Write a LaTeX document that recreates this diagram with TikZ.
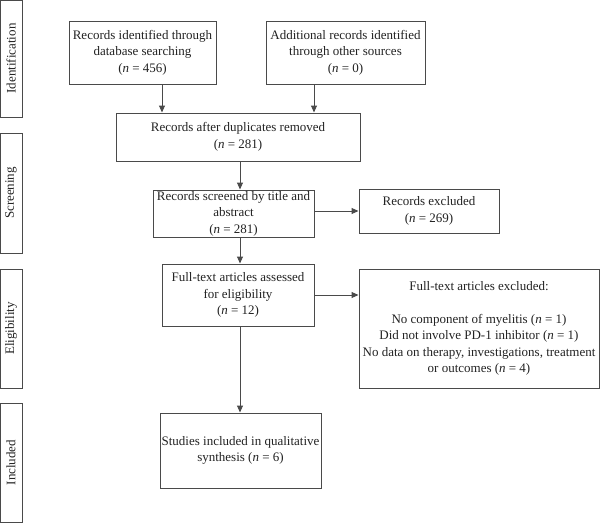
\documentclass[tikz,border=0pt]{standalone}
\usepackage{fontspec}
\setmainfont{Liberation Serif}
\usetikzlibrary{arrows.meta}
\definecolor{ln}{HTML}{4A4A4A}
\definecolor{tx}{HTML}{222222}
\begin{document}
\begin{tikzpicture}[x=1pt,y=-1pt,
  box/.style={draw=ln,line width=1pt,rectangle,align=center,inner sep=1pt,text=tx,
    font=\fontsize{13}{16.5}\selectfont},
  side/.style={draw=ln,line width=1pt,rectangle,minimum width=22pt,text=tx,
    font=\fontsize{13}{14}\selectfont},
  arr/.style={draw=ln,line width=1pt,-{Triangle[length=7pt,width=6pt]}}]
\useasboundingbox (0,0) rectangle (600,523);
% side labels
\node[side,minimum height=117pt] (s1) at (11,58.5) {\rotatebox{90}{Identification}};
\node[side,minimum height=120pt] (s2) at (11,193) {\rotatebox{90}{Screening}};
\node[side,minimum height=119pt] (s3) at (11,328.5) {\rotatebox{90}{Eligibility}};
\node[side,minimum height=119pt] (s4) at (11,462.5) {\rotatebox{90}{Included}};
% boxes
\node[box,minimum width=147pt,minimum height=63pt] (b1) at (142.5,52.5)
  {Records identified through\\database searching\\(\textit{n} = 456)};
\node[box,minimum width=159pt,minimum height=63pt] (b2) at (345.5,52.5)
  {Additional records identified\\through other sources\\(\textit{n} = 0)};
\node[box,minimum width=244pt,minimum height=48pt] (b3) at (238,137)
  {Records after duplicates removed\\(\textit{n} = 281)};
\node[box,minimum width=161pt,minimum height=47pt] (b4) at (233.5,213.5)
  {Records screened by title and\\abstract\\(\textit{n} = 281)};
\node[box,minimum width=140pt,minimum height=44pt] (b5) at (429,211)
  {Records excluded\\(\textit{n} = 269)};
\node[box,minimum width=152pt,minimum height=62pt] (b6) at (238,295)
  {Full-text articles assessed\\for eligibility\\(\textit{n} = 12)};
\node[box,minimum width=240pt,minimum height=119pt] (b7) at (479,328.5)
  {Full-text articles excluded:\\[16.5pt]No component of myelitis (\textit{n} = 1)\\Did not involve PD-1 inhibitor (\textit{n} = 1)\\No data on therapy, investigations, treatment\\or outcomes (\textit{n} = 4)};
\node[box,minimum width=161pt,minimum height=75pt] (b8) at (240.5,450.5)
  {Studies included in qualitative\\synthesis (\textit{n} = 6)};
% connectors
\coordinate (c1) at ([xshift=19.5pt]b1.south);
\coordinate (c2) at ([xshift=-31.5pt]b2.south);
\coordinate (c3) at ([xshift=2pt]b3.south);
\draw[arr] (c1) -- (b3.north -| c1);
\draw[arr] (c2) -- (b3.north -| c2);
\draw[arr] (c3) -- (b4.north -| c3);
\draw[arr] (b4.south -| c3) -- (b6.north -| c3);
\draw[arr] (b6.south -| c3) -- (b8.north -| c3);
\draw[arr] (b4.east |- b5.west) -- (b5.west);
\draw[arr] (b6.east) -- (b7.west |- b6.east);
\end{tikzpicture}
\end{document}
